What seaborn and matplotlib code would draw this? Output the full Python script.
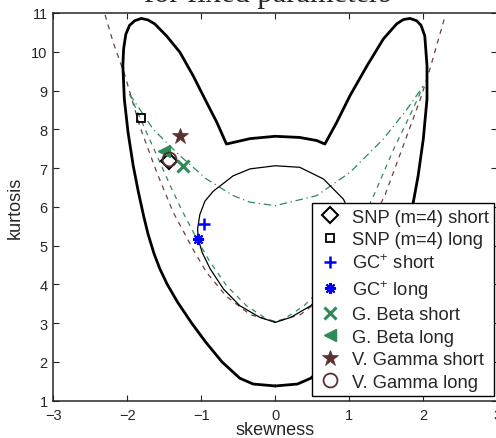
import numpy as np
import pandas as pd
import matplotlib
matplotlib.use("Agg")
import matplotlib.pyplot as plt
import seaborn as sns

# ---------------- data ----------------
# thick black boundary (closed curve)
thick_x = [0.00, -0.30, -0.48, -0.72, -0.94, -1.13, -1.32, -1.46, -1.56, -1.64, -1.72,
           -1.78, -1.85, -1.92, -1.99, -2.04, -2.06, -2.05, -2.02, -1.97, -1.90, -1.81,
           -1.72, -1.63, -1.47, -1.29, -1.11, -0.93, -0.79, -0.66, -0.57, -0.34, 0.00,
           0.33, 0.56, 0.67, 0.83, 1.01, 1.24, 1.46, 1.64, 1.73, 1.82, 1.91, 1.97, 2.02,
           2.05, 2.05, 2.00, 1.93, 1.84, 1.76, 1.64, 1.56, 1.46, 1.32, 1.13, 0.94,
           0.72, 0.48, 0.30, 0.00]
thick_y = [1.38, 1.43, 1.58, 2.00, 2.51, 3.00, 3.54, 4.00, 4.40, 4.80, 5.30,
           5.77, 6.38, 7.06, 7.92, 8.78, 9.64, 10.07, 10.45, 10.68, 10.80, 10.86,
           10.82, 10.72, 10.41, 9.99, 9.38, 8.70, 8.18, 7.62, 7.66, 7.76, 7.82,
           7.79, 7.71, 7.62, 8.18, 8.87, 9.64, 10.33, 10.72, 10.83, 10.86, 10.80, 10.68, 10.41,
           9.64, 8.78, 7.75, 6.80, 5.86, 5.30, 4.80, 4.40, 4.00, 3.54, 3.00, 2.51,
           2.00, 1.58, 1.43, 1.38]

# thin black GC+ region
thin_x = [0.00, -0.21, -0.48, -0.70, -0.88, -0.99, -1.04, -1.05, -1.02, -0.95, -0.84,
          -0.57, -0.34, 0.00, 0.33, 0.65, 0.92, 1.02, 1.05, 1.04, 0.99, 0.88, 0.70,
          0.48, 0.21, 0.00]
thin_y = [3.02, 3.15, 3.45, 3.88, 4.40, 4.83, 5.17, 5.43, 5.80, 6.15, 6.40,
          6.80, 6.98, 7.06, 7.02, 6.72, 6.20, 5.80, 5.43, 5.17, 4.83, 4.40, 3.88,
          3.45, 3.15, 3.02]

# dark red dashed curve
red_x = [-2.30, -2.19, -2.03, -1.83, -1.60, -1.38, -1.11, -0.93, -0.66, -0.34, 0.00,
         0.34, 0.66, 0.93, 1.11, 1.48, 1.73, 1.96, 2.07, 2.18, 2.29]
red_y = [10.95, 10.24, 9.38, 8.07, 6.88, 5.86, 4.90, 4.31, 3.69, 3.22, 3.04,
         3.22, 3.69, 4.31, 4.90, 6.29, 7.58, 8.78, 9.43, 10.16, 10.89]

# green dashed curve
gd_x = [-1.97, -1.78, -1.60, -1.42, -1.27, -1.06, -0.88, -0.66, -0.39, -0.12, 0.00,
        0.12, 0.39, 0.66, 0.88, 1.06, 1.35, 1.60, 1.86, 2.00]
gd_y = [8.91, 8.09, 7.32, 6.55, 5.94, 5.17, 4.57, 3.97, 3.45, 3.11, 3.04,
        3.11, 3.45, 3.97, 4.57, 5.17, 6.38, 7.49, 8.52, 9.12]

# green dash-dot curve
gdd_x = [-1.97, -1.65, -1.29, -0.93, -0.57, -0.34, 0.00, 0.56, 1.01, 1.46, 1.78, 2.00]
gdd_y = [8.91, 8.00, 7.32, 6.72, 6.29, 6.12, 6.03, 6.29, 6.89, 7.75, 8.52, 9.12]

# estimated points
labels = ["SNP (m=4) short", "SNP (m=4) long", "GC$^{+}$ short", "GC$^{+}$ long",
          "G. Beta short", "G. Beta long", "V. Gamma short", "V. Gamma long"]
pt_skew = [-1.44, -1.82, -0.97, -1.04, -1.25, -1.51, -1.29, -1.44]
pt_kurt = [7.19, 8.29, 5.56, 5.18, 7.06, 7.45, 7.84, 7.24]

xticks = [-3, -2, -1, 0, 1, 2, 3]
yticks = list(range(1, 12))

# ---------------- style ----------------
sns.set_style("ticks")
plt.rcParams["font.family"] = ["Liberation Sans", "DejaVu Sans"]
plt.rcParams["mathtext.fontset"] = "custom"
plt.rcParams["mathtext.rm"] = "Liberation Sans"
plt.rcParams["mathtext.it"] = "Liberation Sans:italic"

GREEN = "#2e8b57"
BROWN = "#5a3030"
RED = "#6e4040"
BLUE = "#0000ff"

fig = plt.figure(figsize=(4.96, 4.39), dpi=100)
ax = fig.add_axes([53.3 / 496, 1 - 401.7 / 439, 444 / 496, 387.7 / 439])

def curve(x, y, **kw):
    df = pd.DataFrame({"x": x, "y": y})
    sns.lineplot(data=df, x="x", y="y", sort=False, estimator=None, ax=ax,
                 legend=False, **kw)

curve(red_x, red_y, color=RED, lw=0.9, dashes=(4, 4))
curve(gd_x, gd_y, color=GREEN, lw=0.9, dashes=(4, 4))
curve(gdd_x, gdd_y, color=GREEN, lw=0.9, dashes=(6, 3, 1, 3))
curve(thin_x, thin_y, color="black", lw=0.9)
curve(thick_x, thick_y, color="black", lw=2.0)

styles = [
    dict(marker="D", ms=8, mfc="none", mec="black", mew=1.5),
    dict(marker="s", ms=6, mfc="none", mec="black", mew=1.3),
    dict(marker="+", ms=9, mec=BLUE, mew=1.8),
    dict(marker=(8, 2, 0), ms=8, mec=BLUE, mew=1.5),
    dict(marker="x", ms=8, mec=GREEN, mew=2.2),
    dict(marker="<", ms=9, mfc=GREEN, mec=GREEN, mew=1),
    dict(marker="*", ms=12, mfc=BROWN, mec=BROWN, mew=0.5),
    dict(marker="o", ms=10, mfc="none", mec=BROWN, mew=1.3),
]
for lab, sx, ky, st in zip(labels, pt_skew, pt_kurt, styles):
    sns.lineplot(x=[sx], y=[ky], ax=ax, linestyle="none", label=lab,
                 color=st.get("mec"), zorder=5, **st)

ax.set_xlim(-3, 3)
ax.set_ylim(1, 11)
ax.set_xticks(xticks)
ax.set_yticks(yticks)
ax.set_xticklabels([str(t).replace("-", "\u2212") for t in xticks])
ax.set_yticklabels([str(t) for t in yticks])
ax.tick_params(direction="in", length=4, width=0.8, top=True, right=True,
               labelsize=10.5, pad=4)
ax.tick_params(axis="x", pad=5)
for s in ax.spines.values():
    s.set_linewidth(1.1)
    s.set_visible(True)
ax.set_xlabel("skewness", fontsize=13)
ax.set_ylabel("kurtosis", fontsize=13)
ax.xaxis.set_label_coords(0.5, -0.052)
ax.yaxis.set_label_coords(-0.066, 0.5)

leg = ax.legend(loc="lower right", bbox_to_anchor=(0.9926, 0.012), borderaxespad=0,
                fontsize=13.2, frameon=True, fancybox=False, edgecolor="black",
                framealpha=1, labelspacing=0.3, handlelength=1.44,
                handletextpad=0.44, borderpad=0.3)
leg.get_frame().set_linewidth(1.0)
leg.set_zorder(10)

fig.text(268 / 496, 1 - 2.0 / 439, "for fixed parameters", ha="center",
         va="baseline", fontsize=22, family=["Liberation Serif", "DejaVu Serif"])

fig.savefig("out.png", dpi=100)
